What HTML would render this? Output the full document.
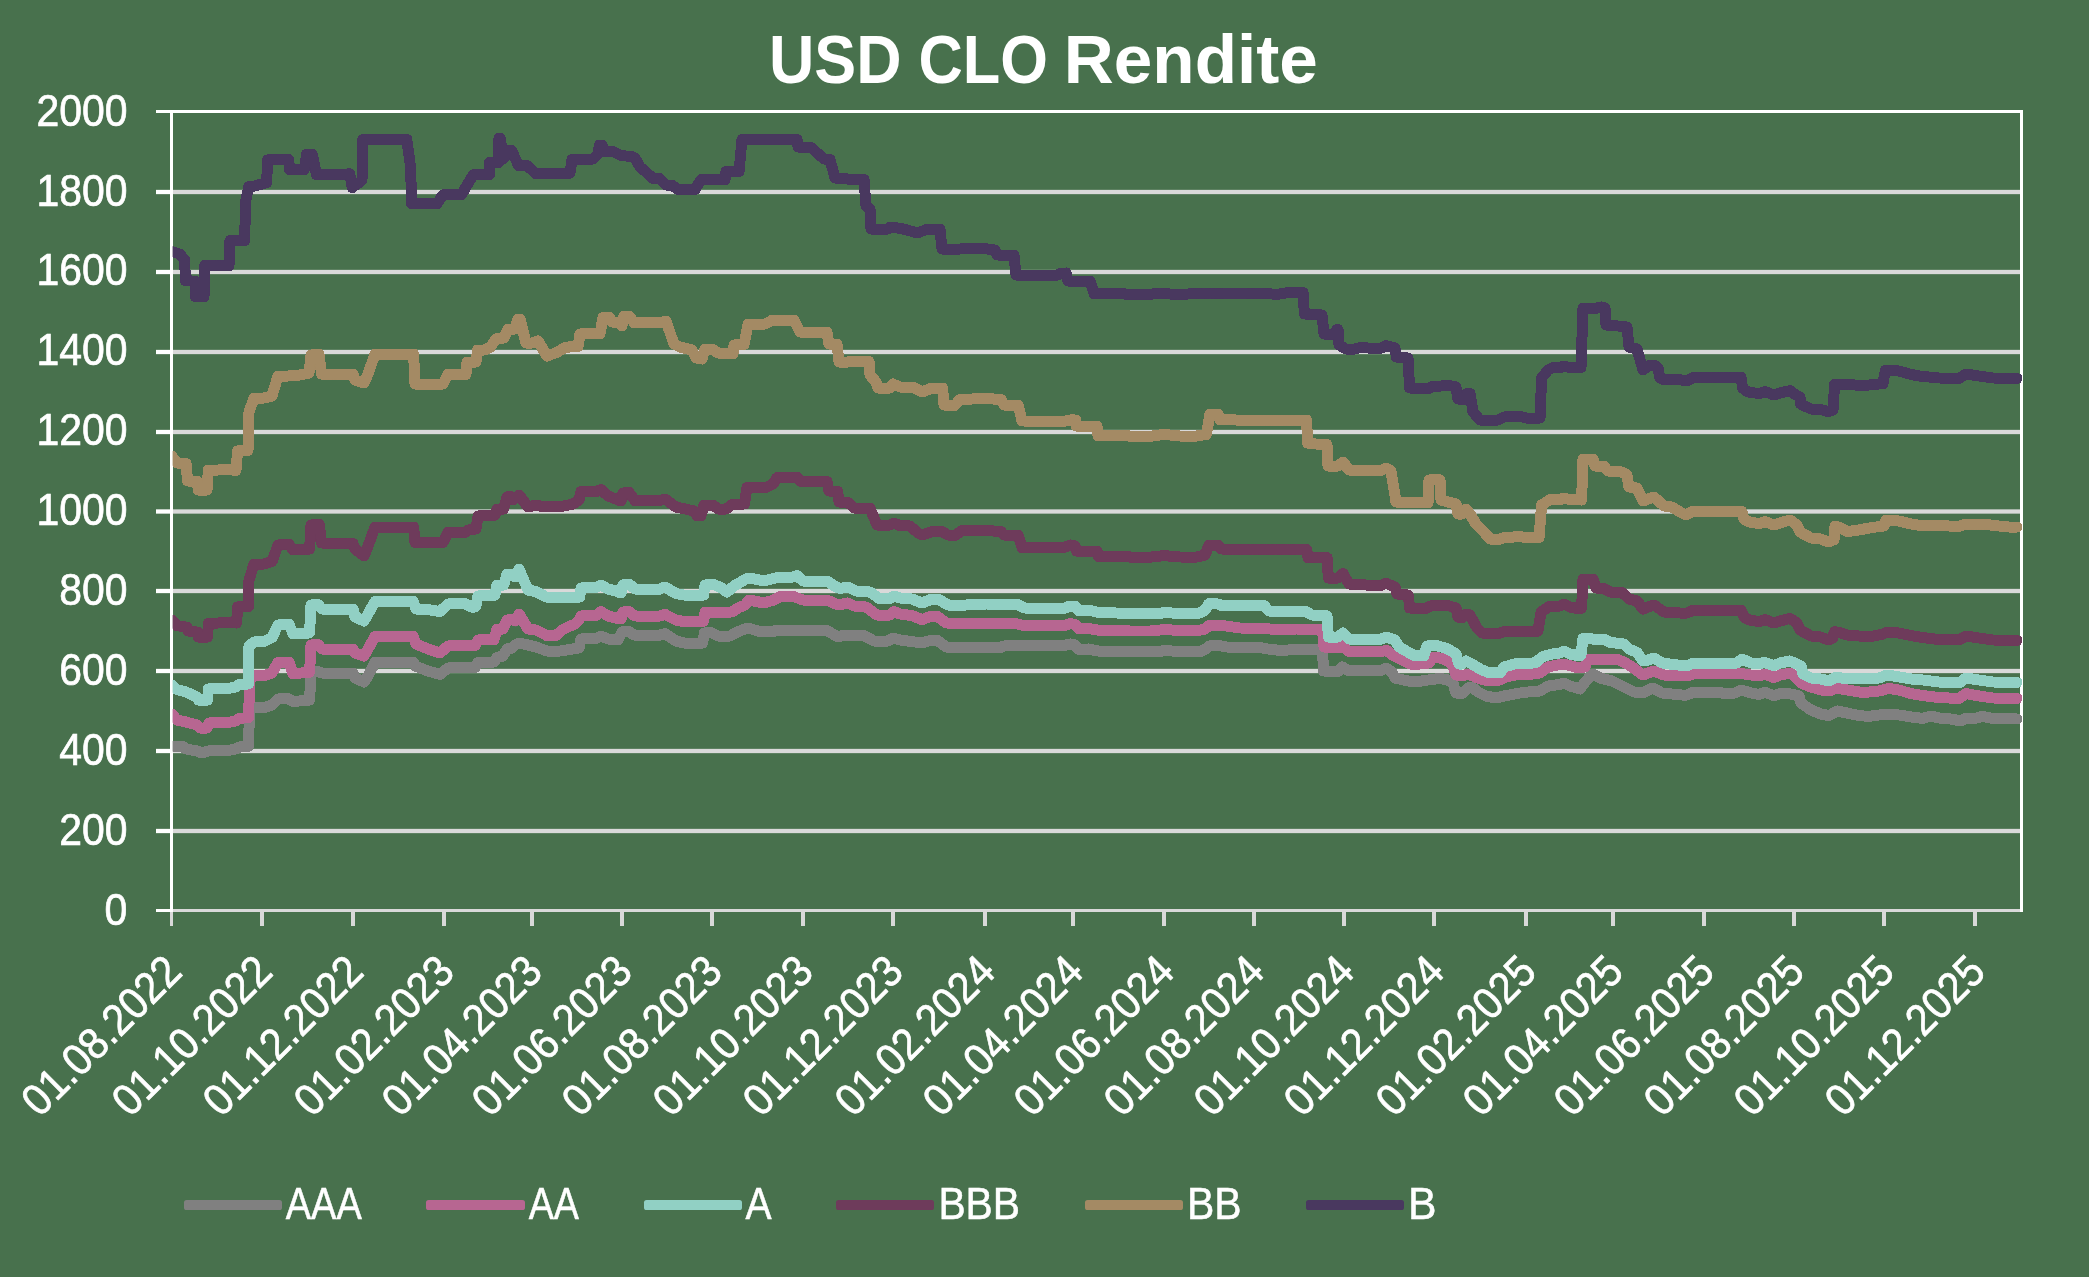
<!DOCTYPE html>
<html lang="de"><head><meta charset="utf-8"><title>USD CLO Rendite</title>
<style>
html,body{margin:0;padding:0;background:#48714D;}
body{width:2089px;height:1277px;overflow:hidden;font-family:"Liberation Sans",sans-serif;}
svg{display:block;will-change:transform}
text{font-family:"Liberation Sans",sans-serif;fill:#fff}
</style></head><body>
<svg width="2089" height="1277" viewBox="0 0 2089 1277">
<rect x="0" y="0" width="2089" height="1277" fill="#48714D"/>
<text x="769.0" y="83" font-size="69.4" font-weight="bold" textLength="132.5" lengthAdjust="spacingAndGlyphs">USD</text>
<text x="918.5" y="83" font-size="69.4" font-weight="bold" textLength="129.5" lengthAdjust="spacingAndGlyphs">CLO</text>
<text x="1063.8" y="83" font-size="69.4" font-weight="bold" textLength="254" lengthAdjust="spacingAndGlyphs">Rendite</text>
<g fill="#D9D9D9">
<rect x="173" y="828.85" width="1847" height="4.3"/>
<rect x="173" y="748.85" width="1847" height="4.3"/>
<rect x="173" y="668.85" width="1847" height="4.3"/>
<rect x="173" y="588.85" width="1847" height="4.3"/>
<rect x="173" y="509.35" width="1847" height="4.3"/>
<rect x="173" y="429.85" width="1847" height="4.3"/>
<rect x="173" y="349.85" width="1847" height="4.3"/>
<rect x="173" y="269.85" width="1847" height="4.3"/>
<rect x="173" y="189.85" width="1847" height="4.3"/>
<rect x="173" y="909" width="1847" height="3"/>
<rect x="170" y="912" width="3" height="14"/>
<rect x="260" y="912" width="4" height="14"/>
<rect x="351" y="912" width="4" height="14"/>
<rect x="442" y="912" width="4" height="14"/>
<rect x="530" y="912" width="4" height="14"/>
<rect x="620" y="912" width="4" height="14"/>
<rect x="710" y="912" width="4" height="14"/>
<rect x="801" y="912" width="4" height="14"/>
<rect x="891" y="912" width="4" height="14"/>
<rect x="983" y="912" width="4" height="14"/>
<rect x="1071" y="912" width="4" height="14"/>
<rect x="1162" y="912" width="4" height="14"/>
<rect x="1252" y="912" width="4" height="14"/>
<rect x="1342" y="912" width="4" height="14"/>
<rect x="1432" y="912" width="4" height="14"/>
<rect x="1524" y="912" width="4" height="14"/>
<rect x="1611" y="912" width="4" height="14"/>
<rect x="1702" y="912" width="4" height="14"/>
<rect x="1792" y="912" width="4" height="14"/>
<rect x="1882" y="912" width="4" height="14"/>
<rect x="1973" y="912" width="4" height="14"/>
</g>
<g fill="#fff">
<rect x="156" y="828.85" width="14" height="4.3"/>
<rect x="156" y="748.85" width="14" height="4.3"/>
<rect x="156" y="668.85" width="14" height="4.3"/>
<rect x="156" y="588.85" width="14" height="4.3"/>
<rect x="156" y="509.35" width="14" height="4.3"/>
<rect x="156" y="429.85" width="14" height="4.3"/>
<rect x="156" y="349.85" width="14" height="4.3"/>
<rect x="156" y="269.85" width="14" height="4.3"/>
<rect x="156" y="189.85" width="14" height="4.3"/>
<rect x="156" y="110" width="14" height="3"/>
<rect x="156" y="909" width="14" height="3"/>
<rect x="170" y="110" width="3" height="802"/>
<rect x="170" y="110" width="1853" height="3"/>
<rect x="2020" y="110" width="3" height="802"/>
</g>
<g font-size="44.3" text-anchor="end" stroke="#fff" stroke-width="0.7">
<text x="127.4" y="924.78" textLength="22.8" lengthAdjust="spacingAndGlyphs">0</text>
<text x="127.4" y="844.78" textLength="68.2" lengthAdjust="spacingAndGlyphs">200</text>
<text x="127.4" y="764.78" textLength="68.2" lengthAdjust="spacingAndGlyphs">400</text>
<text x="127.4" y="684.78" textLength="68.2" lengthAdjust="spacingAndGlyphs">600</text>
<text x="127.4" y="604.78" textLength="68.2" lengthAdjust="spacingAndGlyphs">800</text>
<text x="127.4" y="524.78" textLength="91.0" lengthAdjust="spacingAndGlyphs">1000</text>
<text x="127.4" y="444.78" textLength="91.0" lengthAdjust="spacingAndGlyphs">1200</text>
<text x="127.4" y="364.78" textLength="91.0" lengthAdjust="spacingAndGlyphs">1400</text>
<text x="127.4" y="284.78" textLength="91.0" lengthAdjust="spacingAndGlyphs">1600</text>
<text x="127.4" y="205.78" textLength="91.0" lengthAdjust="spacingAndGlyphs">1800</text>
<text x="127.4" y="125.78" textLength="91.0" lengthAdjust="spacingAndGlyphs">2000</text>
</g>
<g font-size="44.3" text-anchor="end" stroke="#fff" stroke-width="0.7">
<text transform="translate(184.10,974.0) rotate(-45)" textLength="204" lengthAdjust="spacingAndGlyphs">01.08.2022</text>
<text transform="translate(274.60,974.0) rotate(-45)" textLength="204" lengthAdjust="spacingAndGlyphs">01.10.2022</text>
<text transform="translate(365.60,974.0) rotate(-45)" textLength="204" lengthAdjust="spacingAndGlyphs">01.12.2022</text>
<text transform="translate(456.60,974.0) rotate(-45)" textLength="204" lengthAdjust="spacingAndGlyphs">01.02.2023</text>
<text transform="translate(544.60,974.0) rotate(-45)" textLength="204" lengthAdjust="spacingAndGlyphs">01.04.2023</text>
<text transform="translate(634.60,974.0) rotate(-45)" textLength="204" lengthAdjust="spacingAndGlyphs">01.06.2023</text>
<text transform="translate(724.60,974.0) rotate(-45)" textLength="204" lengthAdjust="spacingAndGlyphs">01.08.2023</text>
<text transform="translate(815.60,974.0) rotate(-45)" textLength="204" lengthAdjust="spacingAndGlyphs">01.10.2023</text>
<text transform="translate(905.60,974.0) rotate(-45)" textLength="204" lengthAdjust="spacingAndGlyphs">01.12.2023</text>
<text transform="translate(997.60,974.0) rotate(-45)" textLength="204" lengthAdjust="spacingAndGlyphs">01.02.2024</text>
<text transform="translate(1085.60,974.0) rotate(-45)" textLength="204" lengthAdjust="spacingAndGlyphs">01.04.2024</text>
<text transform="translate(1176.60,974.0) rotate(-45)" textLength="204" lengthAdjust="spacingAndGlyphs">01.06.2024</text>
<text transform="translate(1266.60,974.0) rotate(-45)" textLength="204" lengthAdjust="spacingAndGlyphs">01.08.2024</text>
<text transform="translate(1356.60,974.0) rotate(-45)" textLength="204" lengthAdjust="spacingAndGlyphs">01.10.2024</text>
<text transform="translate(1446.60,974.0) rotate(-45)" textLength="204" lengthAdjust="spacingAndGlyphs">01.12.2024</text>
<text transform="translate(1538.60,974.0) rotate(-45)" textLength="204" lengthAdjust="spacingAndGlyphs">01.02.2025</text>
<text transform="translate(1625.60,974.0) rotate(-45)" textLength="204" lengthAdjust="spacingAndGlyphs">01.04.2025</text>
<text transform="translate(1716.60,974.0) rotate(-45)" textLength="204" lengthAdjust="spacingAndGlyphs">01.06.2025</text>
<text transform="translate(1806.60,974.0) rotate(-45)" textLength="204" lengthAdjust="spacingAndGlyphs">01.08.2025</text>
<text transform="translate(1896.60,974.0) rotate(-45)" textLength="204" lengthAdjust="spacingAndGlyphs">01.10.2025</text>
<text transform="translate(1987.60,974.0) rotate(-45)" textLength="204" lengthAdjust="spacingAndGlyphs">01.12.2025</text>
</g>
<clipPath id="pc"><rect x="172.8" y="100" width="1870" height="820"/></clipPath>
<g fill="none" stroke-width="11" stroke-linejoin="round" stroke-linecap="round" clip-path="url(#pc)" shape-rendering="crispEdges">
<polyline id="sAAA" stroke="#808080" points="171.6,746.0 182.0,746.0 186.0,749.0 197.0,751.0 202.0,753.0 208.0,751.0 228.0,750.4 236.0,749.0 239.0,747.0 248.0,746.4 248.4,746.4 249.6,710.0 254.0,707.6 264.0,707.6 272.0,705.0 278.0,699.0 288.0,698.4 293.0,701.6 309.0,700.0 309.6,700.0 311.0,672.0 318.0,671.6 322.0,673.0 353.0,673.0 355.0,678.0 364.0,682.0 368.0,676.0 375.0,662.4 413.0,662.0 416.0,666.4 428.0,671.0 440.0,674.4 448.0,668.0 475.0,667.6 478.0,662.4 494.0,662.0 497.0,657.6 503.0,656.0 507.0,649.0 512.0,648.0 515.0,645.0 519.0,643.0 528.0,645.0 536.0,647.0 547.0,651.0 560.0,651.0 579.0,648.0 581.0,639.0 596.0,638.4 601.0,636.0 608.0,639.0 618.0,640.0 622.0,632.0 628.0,631.0 634.0,635.0 658.0,635.6 665.0,633.6 676.0,641.0 684.0,643.0 702.0,643.0 702.6,643.0 704.4,633.0 711.0,632.4 718.0,636.0 730.0,636.0 738.0,631.6 748.0,628.0 760.0,631.6 772.0,632.0 777.0,630.0 826.0,630.0 838.0,637.0 844.0,635.0 864.0,635.6 874.0,641.0 888.0,641.0 893.0,638.0 900.0,640.0 912.0,641.6 922.0,643.0 932.0,640.0 937.0,640.0 946.0,647.0 978.0,647.0 1000.0,647.6 1004.0,646.0 1016.0,645.6 1064.0,645.6 1070.0,644.0 1075.0,645.0 1079.0,649.6 1088.0,649.0 1098.0,651.0 1116.0,651.0 1120.0,651.6 1160.0,651.6 1164.0,650.4 1180.0,651.6 1200.0,651.6 1205.0,649.6 1209.0,646.0 1220.0,645.6 1226.0,647.0 1260.0,647.6 1268.0,649.0 1280.0,650.4 1296.0,649.6 1322.0,649.6 1322.4,649.6 1323.6,671.0 1338.0,671.6 1342.4,667.0 1349.0,671.0 1360.0,670.0 1380.0,671.0 1386.0,668.0 1392.0,672.0 1395.0,678.0 1408.0,681.0 1416.0,682.0 1428.0,680.0 1440.0,678.4 1448.0,680.0 1453.0,683.0 1456.0,693.0 1462.0,693.6 1468.0,688.0 1472.0,687.0 1478.0,692.0 1486.0,696.0 1496.0,698.0 1504.0,696.0 1520.0,693.0 1528.0,692.0 1540.0,691.0 1548.0,686.0 1560.0,684.4 1564.0,683.0 1570.0,686.0 1580.0,689.0 1585.0,682.0 1592.0,674.4 1595.0,675.0 1600.0,678.0 1612.0,681.0 1624.0,687.0 1634.0,692.0 1643.0,693.0 1648.0,690.0 1653.0,688.0 1662.0,693.0 1672.0,694.0 1682.0,695.0 1687.0,695.0 1693.0,692.4 1719.0,692.4 1725.0,693.6 1735.0,693.0 1741.0,690.0 1751.0,693.0 1759.0,694.4 1765.0,692.4 1774.0,695.6 1780.0,693.6 1791.0,694.0 1799.0,696.0 1801.0,703.0 1811.0,710.0 1821.0,714.0 1829.0,715.6 1837.0,711.0 1847.0,713.0 1859.0,715.6 1869.0,716.4 1879.0,715.0 1889.0,714.0 1899.0,715.0 1911.0,717.0 1923.0,718.4 1931.0,716.0 1939.0,718.0 1951.0,719.0 1961.0,721.0 1966.0,718.0 1975.0,718.4 1982.0,716.4 1993.0,718.4 2017.0,719.0"/>
<use href="#sAAA" stroke="#808080" stroke-width="10" shape-rendering="geometricPrecision"/>
<polyline id="sAA" stroke="#B76691" points="171.6,714.0 177.0,720.0 186.0,722.0 197.0,725.0 200.0,728.0 207.0,728.0 209.0,723.0 228.0,722.4 236.0,721.0 239.0,718.4 248.0,717.6 248.4,717.6 250.0,680.0 254.0,676.0 264.0,675.6 272.0,673.0 278.0,662.4 289.0,662.0 293.0,673.6 309.0,672.4 309.6,672.0 311.0,645.0 318.0,644.4 322.0,649.0 353.0,649.0 355.0,653.0 364.0,656.0 368.0,649.0 375.0,636.4 413.0,636.0 416.0,644.0 428.0,649.0 440.0,653.0 448.0,646.0 475.0,645.6 478.0,640.0 494.0,639.6 497.0,629.0 503.0,629.0 507.0,620.0 512.0,619.6 515.0,621.0 519.0,614.0 528.0,629.0 536.0,630.0 547.0,635.6 556.0,635.6 562.0,630.0 568.0,627.0 575.0,624.0 579.0,620.0 581.0,616.0 596.0,615.6 601.0,611.6 608.0,616.0 616.0,618.0 621.0,619.0 623.0,612.0 629.0,611.6 635.0,616.0 658.0,616.4 665.0,614.4 676.0,620.0 684.0,621.6 703.0,621.6 703.6,621.0 705.0,612.4 732.0,612.0 738.0,608.0 745.0,605.0 749.0,600.0 764.0,603.0 774.0,600.0 780.0,596.4 792.0,596.0 803.0,600.0 827.0,600.0 838.0,605.0 848.0,603.0 854.0,606.0 866.0,607.0 877.0,615.0 890.0,615.0 894.0,611.6 900.0,614.0 912.0,615.6 922.0,619.6 932.0,616.0 937.0,616.0 946.0,623.0 978.0,623.6 1016.0,623.6 1024.0,625.6 1064.0,625.6 1070.0,623.6 1075.0,624.4 1079.0,629.0 1088.0,628.4 1100.0,630.4 1130.0,631.0 1150.0,631.0 1164.0,629.6 1180.0,630.4 1196.0,631.0 1205.0,629.0 1209.0,625.6 1226.0,626.0 1240.0,628.0 1264.0,628.4 1280.0,630.0 1296.0,629.0 1321.0,629.6 1322.4,629.6 1324.0,647.0 1338.0,648.0 1342.0,646.0 1349.0,651.6 1360.0,652.0 1380.0,651.6 1387.0,650.4 1392.0,655.0 1400.0,659.0 1410.0,664.0 1420.0,664.0 1429.0,663.0 1433.0,657.0 1440.0,658.0 1448.0,661.0 1453.0,666.0 1456.0,675.0 1462.0,676.0 1468.0,674.0 1475.0,677.0 1484.0,680.0 1500.0,680.0 1506.0,677.0 1518.0,674.4 1526.0,675.0 1540.0,673.0 1548.0,667.0 1560.0,664.4 1568.0,665.0 1578.0,668.0 1585.0,667.0 1587.0,659.0 1616.0,659.0 1624.0,662.0 1632.0,667.0 1643.0,675.0 1648.0,673.0 1654.0,671.0 1664.0,675.0 1680.0,676.0 1688.0,675.6 1694.0,673.6 1741.0,673.0 1746.0,674.4 1759.0,676.0 1765.0,674.0 1774.0,677.6 1780.0,675.0 1791.0,673.0 1796.0,678.0 1801.0,683.0 1811.0,687.0 1821.0,690.0 1829.0,691.0 1837.0,688.0 1847.0,690.0 1859.0,692.0 1869.0,692.0 1879.0,691.0 1889.0,688.4 1899.0,690.0 1911.0,693.6 1923.0,695.6 1939.0,697.6 1959.0,698.4 1966.0,693.6 1979.0,696.0 1993.0,698.0 2017.0,698.4"/>
<use href="#sAA" stroke="#B76691" stroke-width="10" shape-rendering="geometricPrecision"/>
<polyline id="sA" stroke="#91D0C4" points="171.6,685.0 177.0,689.6 186.0,692.0 197.0,697.0 198.4,700.0 207.0,700.0 207.6,700.0 208.4,689.0 228.0,688.4 236.0,687.0 239.0,684.4 248.0,684.0 248.4,684.0 249.0,646.0 254.0,642.0 264.0,641.6 272.0,637.6 278.0,625.0 289.0,624.4 293.0,633.6 309.0,633.0 309.6,632.4 311.0,605.0 318.0,604.4 322.0,609.0 353.0,609.0 355.0,617.0 364.0,621.0 368.0,614.0 375.0,601.6 413.0,601.0 416.0,609.0 428.0,609.6 440.0,611.6 448.0,604.0 465.0,603.6 471.0,607.0 475.0,607.0 476.0,606.0 478.0,596.0 494.0,595.6 495.0,595.0 497.0,585.0 503.0,585.0 503.6,585.0 507.0,574.4 512.0,574.4 515.0,577.0 519.0,569.0 528.0,590.0 536.0,591.6 546.0,597.0 560.0,597.0 579.0,597.0 579.6,597.0 581.0,588.0 596.0,587.6 601.0,585.0 608.0,589.0 616.0,591.0 621.0,593.0 623.0,585.0 629.0,584.0 635.0,589.0 658.0,589.6 665.0,587.0 676.0,593.6 684.0,595.0 703.0,595.0 703.6,595.0 705.0,585.0 713.0,584.4 720.0,587.0 727.0,592.0 734.0,586.0 746.0,579.0 750.0,578.0 764.0,581.0 777.0,577.6 793.0,577.0 797.0,575.6 803.0,581.0 827.0,581.0 836.0,587.0 840.0,588.4 848.0,587.0 856.0,591.0 870.0,592.0 880.0,599.0 890.0,598.4 894.0,596.0 900.0,598.0 912.0,599.0 922.0,603.0 932.0,599.0 938.0,599.0 948.0,605.0 966.0,605.0 972.0,604.4 986.0,604.0 1018.0,604.4 1024.0,608.0 1064.0,608.4 1070.0,606.0 1075.0,606.4 1079.0,611.0 1088.0,610.0 1098.0,612.4 1116.0,613.0 1160.0,613.6 1164.0,612.4 1180.0,613.6 1200.0,613.0 1205.0,610.0 1209.0,603.6 1218.0,604.0 1222.0,605.6 1264.0,605.6 1269.0,611.0 1284.0,612.0 1296.0,611.0 1306.0,611.6 1312.0,615.0 1320.0,616.0 1326.0,615.6 1327.0,616.0 1328.4,637.0 1338.0,637.0 1343.0,633.0 1349.0,639.0 1360.0,640.0 1380.0,639.6 1386.0,637.0 1395.0,640.0 1399.0,647.0 1408.0,652.0 1414.0,655.6 1424.0,655.6 1427.0,646.0 1435.0,645.0 1448.0,649.0 1456.0,654.0 1459.0,664.0 1462.0,664.0 1466.0,661.0 1472.0,664.0 1480.0,669.0 1488.0,672.4 1500.0,673.0 1504.0,667.0 1518.0,663.0 1526.0,664.0 1536.0,662.4 1542.0,657.0 1552.0,654.0 1560.0,653.0 1564.0,651.0 1570.0,654.0 1580.0,656.0 1581.0,655.0 1583.0,638.4 1593.0,639.0 1597.0,640.0 1604.0,639.0 1610.0,642.4 1624.0,644.0 1629.0,649.0 1637.0,652.4 1643.0,661.0 1648.0,660.0 1654.0,658.0 1662.0,663.0 1672.0,664.4 1684.0,665.6 1687.0,666.0 1693.0,663.0 1737.0,663.0 1742.0,659.0 1751.0,663.0 1759.0,664.0 1764.0,662.4 1774.0,665.6 1780.0,663.0 1790.0,661.0 1796.0,663.6 1801.0,666.0 1803.0,674.0 1811.0,678.0 1821.0,679.0 1829.0,681.0 1836.0,677.0 1847.0,679.0 1859.0,678.0 1869.0,679.0 1879.0,678.0 1887.0,675.0 1899.0,677.0 1911.0,679.0 1923.0,680.0 1939.0,682.0 1959.0,683.0 1966.0,678.0 1979.0,680.0 1993.0,682.0 2017.0,682.4"/>
<use href="#sA" stroke="#91D0C4" stroke-width="10" shape-rendering="geometricPrecision"/>
<polyline id="sBBB" stroke="#6E3B5B" points="171.6,620.0 177.0,625.6 186.0,627.0 187.0,627.0 188.0,631.0 197.0,632.0 197.6,632.0 198.4,637.0 207.0,637.0 207.6,637.0 208.4,623.6 218.0,623.0 228.0,622.4 236.0,623.0 236.6,623.0 237.6,607.0 248.0,606.6 248.4,606.6 249.0,580.0 254.0,564.0 264.0,564.0 272.0,561.6 278.0,545.0 289.0,544.4 293.0,549.6 309.0,549.0 309.6,549.0 311.0,525.0 319.0,524.4 319.4,525.0 321.6,543.0 353.0,543.6 355.0,549.0 364.0,556.0 368.0,546.0 375.0,527.0 413.0,527.0 413.6,527.0 415.0,542.4 443.0,542.4 448.0,532.4 465.0,532.4 468.0,530.0 475.0,529.0 476.0,529.0 478.0,516.0 494.0,515.6 495.0,515.0 497.0,509.0 503.0,509.0 503.6,509.0 507.0,497.0 510.0,496.4 513.0,500.0 519.0,495.0 528.0,507.0 536.0,505.0 544.0,507.0 560.0,506.6 572.0,504.4 578.0,501.0 579.0,500.0 581.0,491.6 596.0,491.6 601.0,489.6 608.0,496.0 616.0,499.0 621.0,501.0 623.0,493.0 629.0,492.4 635.0,500.6 658.0,501.0 665.0,499.0 676.0,507.0 688.0,509.6 694.0,511.0 697.0,515.6 701.0,515.6 704.0,505.0 713.0,505.0 718.0,509.0 726.0,509.0 733.0,504.0 744.0,504.0 744.4,504.0 747.0,487.6 766.0,487.6 773.0,484.0 777.0,477.6 797.0,477.0 801.0,481.6 827.0,481.6 829.0,491.0 837.0,491.6 837.6,491.6 839.0,502.0 848.0,502.4 854.0,508.0 870.0,508.4 877.0,525.0 890.0,525.0 894.0,523.0 900.0,525.6 910.0,526.0 918.0,533.0 922.0,535.0 932.0,531.6 942.0,531.6 948.0,535.0 955.0,535.6 962.0,530.4 978.0,530.4 986.0,530.4 1001.0,531.6 1004.0,535.0 1018.0,535.0 1018.4,535.6 1022.0,547.6 1064.0,547.6 1070.0,545.0 1075.0,546.0 1076.4,551.0 1096.0,551.0 1097.0,551.0 1098.4,556.4 1128.0,556.4 1130.0,557.2 1150.0,557.2 1164.0,555.6 1180.0,557.0 1196.0,557.2 1205.0,555.0 1209.0,545.0 1218.0,545.0 1221.0,549.0 1260.0,549.6 1276.0,550.0 1296.0,549.0 1306.0,549.0 1306.6,549.6 1308.0,557.6 1320.0,558.0 1326.0,557.0 1327.0,557.6 1328.4,578.0 1338.0,578.0 1343.0,573.6 1349.0,584.0 1366.0,585.0 1380.0,586.0 1386.0,583.0 1390.0,585.0 1395.0,587.0 1397.0,594.0 1408.0,595.0 1408.4,595.6 1409.6,608.0 1426.0,608.4 1430.0,606.0 1448.0,605.6 1456.0,608.0 1458.0,617.0 1462.0,618.0 1466.0,614.0 1470.0,615.0 1477.0,628.0 1482.0,633.0 1498.0,633.6 1504.0,631.6 1520.0,631.0 1528.0,632.0 1537.0,631.6 1538.0,631.0 1541.0,612.0 1550.0,606.0 1560.0,606.0 1564.0,604.0 1570.0,607.0 1580.0,609.0 1581.6,608.0 1583.0,579.0 1593.0,579.0 1596.0,588.0 1604.0,588.4 1610.0,592.0 1622.0,592.4 1629.0,599.0 1637.0,601.0 1643.0,609.0 1648.0,607.0 1654.0,605.0 1664.0,612.0 1674.0,612.4 1680.0,613.0 1687.0,613.0 1693.0,610.4 1741.0,610.0 1744.0,617.0 1749.0,620.0 1759.0,621.6 1765.0,619.6 1774.0,623.0 1780.0,621.0 1790.0,618.4 1797.0,623.0 1800.0,630.0 1811.0,636.0 1821.0,637.0 1828.0,640.0 1833.0,638.0 1834.0,633.0 1835.0,631.6 1841.0,633.0 1847.0,635.0 1859.0,636.0 1869.0,637.0 1883.0,634.0 1886.0,632.4 1899.0,633.0 1911.0,635.6 1923.0,637.6 1939.0,639.6 1959.0,640.0 1966.0,636.0 1979.0,638.0 1993.0,640.0 2017.0,640.4"/>
<use href="#sBBB" stroke="#6E3B5B" stroke-width="10" shape-rendering="geometricPrecision"/>
<polyline id="sBB" stroke="#A48A64" points="171.6,456.0 177.0,463.0 186.0,463.6 187.6,481.0 197.0,481.0 198.4,490.0 207.0,490.0 208.4,470.0 218.0,470.0 228.0,469.6 236.0,470.4 237.6,451.0 248.0,450.4 249.0,412.0 254.0,398.0 264.0,398.0 272.0,396.0 278.0,376.0 288.0,376.0 300.0,375.0 309.0,373.0 311.0,355.0 318.0,354.4 319.0,354.4 321.6,374.0 330.0,375.0 336.0,374.4 353.0,374.4 355.0,380.0 364.0,383.0 368.0,374.0 375.0,354.0 413.0,354.0 413.6,354.0 415.0,384.0 443.0,384.0 448.0,374.4 465.0,374.4 466.0,374.4 467.0,362.0 475.0,362.0 476.0,362.0 477.6,350.0 484.0,350.0 490.0,347.6 496.0,339.0 502.0,338.0 504.0,338.0 508.0,329.0 514.0,329.0 515.0,329.0 518.0,319.0 520.0,319.0 526.0,343.0 532.0,343.0 538.0,341.0 547.0,356.0 557.0,352.4 564.0,348.0 572.0,346.4 574.0,346.4 578.0,346.4 580.0,334.0 600.0,333.6 603.0,317.6 609.0,317.0 612.0,322.0 620.0,323.0 622.0,326.0 624.0,316.0 629.0,316.0 634.0,322.6 660.0,323.0 666.0,321.0 674.0,344.0 680.0,347.0 688.0,349.0 692.0,350.0 696.0,358.0 702.0,359.0 705.0,349.0 712.0,349.0 718.0,353.0 732.0,353.6 733.0,353.6 734.0,345.0 743.0,344.4 744.0,344.4 748.0,324.4 765.0,324.0 772.0,320.4 794.0,320.0 800.0,332.0 826.0,332.0 827.0,332.0 829.0,344.0 836.0,344.0 837.0,344.0 839.0,362.0 846.0,362.4 850.0,361.6 868.0,361.6 869.0,361.6 870.0,375.0 876.0,382.0 878.0,388.0 890.0,388.0 893.0,384.0 900.0,387.0 914.0,387.6 922.0,392.0 932.0,388.0 942.0,388.0 942.6,388.0 944.0,405.0 954.0,406.0 960.0,399.6 972.0,399.0 986.0,398.6 1001.0,399.4 1004.0,405.0 1018.0,405.6 1018.4,405.6 1022.0,421.0 1064.0,421.4 1072.0,419.6 1075.0,420.0 1075.6,420.0 1076.4,426.0 1084.0,426.4 1096.0,426.4 1097.0,426.4 1098.0,435.6 1128.0,435.6 1130.0,436.4 1150.0,436.4 1164.0,434.4 1180.0,436.0 1194.0,436.4 1206.0,434.4 1206.4,434.4 1210.0,414.0 1218.0,414.0 1220.0,419.6 1236.0,420.0 1260.0,420.0 1276.0,421.0 1296.0,420.0 1306.0,420.0 1306.6,420.0 1307.6,443.0 1316.0,444.0 1326.0,444.6 1327.0,444.6 1328.0,466.0 1338.0,466.0 1343.0,462.0 1349.0,470.0 1366.0,470.0 1380.0,471.0 1386.0,468.0 1390.0,470.0 1391.0,471.0 1396.0,502.0 1428.0,503.0 1428.0,503.0 1429.0,480.0 1439.0,479.6 1440.0,480.0 1441.0,500.0 1448.0,502.0 1456.0,504.0 1458.0,514.0 1462.0,514.0 1466.0,509.0 1470.0,514.0 1476.0,524.0 1484.0,532.0 1490.0,539.0 1498.0,539.6 1504.0,537.6 1520.0,536.6 1528.0,538.0 1538.0,537.6 1539.0,537.6 1541.6,505.0 1550.0,499.6 1560.0,499.6 1564.0,498.0 1570.0,499.6 1581.0,500.0 1581.6,500.0 1583.0,459.0 1593.0,459.0 1595.0,466.0 1604.0,466.4 1608.0,471.0 1620.0,471.6 1626.0,474.0 1627.0,475.0 1629.0,487.0 1637.0,488.0 1643.0,501.0 1648.0,499.0 1654.0,497.0 1664.0,506.0 1672.0,507.0 1680.0,512.0 1686.0,515.0 1692.0,511.6 1741.0,511.0 1742.0,511.6 1744.0,519.0 1749.0,522.0 1759.0,523.6 1765.0,521.6 1774.0,525.0 1780.0,523.0 1790.0,520.0 1797.0,525.0 1800.0,532.0 1811.0,538.0 1821.0,539.0 1828.0,542.0 1833.0,540.0 1834.0,540.0 1835.0,526.0 1841.0,528.0 1847.0,531.6 1859.0,530.0 1869.0,528.0 1883.0,526.0 1884.0,526.0 1886.0,520.4 1899.0,521.0 1911.0,524.0 1923.0,526.0 1939.0,525.6 1959.0,526.4 1966.0,524.0 1975.0,525.0 1983.0,524.0 1995.0,525.6 2009.0,527.0 2017.0,527.0"/>
<use href="#sBB" stroke="#A48A64" stroke-width="10" shape-rendering="geometricPrecision"/>
<polyline id="sB" stroke="#49385F" points="172.0,251.5 179.5,254.0 184.5,259.5 185.5,280.5 195.0,281.3 195.5,296.8 204.0,296.8 204.8,265.0 214.0,265.0 220.0,265.8 229.0,265.8 230.0,240.6 244.7,240.6 245.5,201.5 248.8,186.8 254.5,186.0 266.7,182.7 267.5,159.9 288.7,159.6 289.5,169.7 303.4,169.7 304.2,169.7 306.6,154.2 312.3,154.2 316.4,174.6 339.2,174.6 349.8,173.8 352.2,187.6 362.0,180.3 362.8,139.6 406.8,139.5 410.6,167.2 411.6,203.9 437.0,203.9 442.7,194.9 461.4,194.9 467.9,183.5 473.6,174.6 489.4,174.6 489.6,162.6 498.5,162.6 498.9,138.4 500.3,138.4 503.3,158.5 505.0,157.0 508.5,150.4 511.5,150.4 518.5,165.5 527.0,165.5 535.5,173.4 569.0,173.4 570.0,173.0 572.0,159.6 593.0,159.0 598.0,154.0 599.5,145.0 602.0,145.0 605.0,151.6 613.0,151.6 621.0,155.6 631.0,156.4 635.0,158.0 640.0,167.0 646.0,172.0 653.0,178.5 659.0,178.0 666.0,185.0 672.0,185.0 678.0,189.6 695.0,189.6 701.0,179.6 723.0,179.6 725.0,179.6 726.0,171.6 738.0,171.6 739.0,171.6 742.0,139.6 796.0,139.6 797.0,139.6 798.0,147.0 811.0,147.4 824.0,159.0 830.0,159.6 835.0,178.0 844.0,178.4 850.0,179.4 863.0,179.4 864.0,179.4 866.0,206.0 870.0,209.0 871.0,229.0 888.0,229.0 890.0,227.0 898.0,228.0 906.0,229.6 917.0,233.0 927.0,229.4 940.0,229.4 942.0,249.0 960.0,249.0 964.0,248.6 984.0,248.6 995.0,250.0 997.0,255.0 1014.0,255.4 1016.0,275.0 1058.0,275.0 1060.0,273.6 1066.0,273.0 1068.0,281.0 1088.0,281.0 1090.0,281.0 1094.0,293.6 1124.0,293.6 1126.0,294.4 1150.0,294.4 1160.0,293.0 1174.0,294.4 1188.0,294.0 1204.0,293.0 1210.0,294.0 1224.0,293.0 1246.0,293.0 1254.0,293.6 1272.0,294.0 1280.0,294.0 1288.0,292.6 1303.0,292.4 1304.4,314.0 1317.0,314.4 1322.0,315.0 1324.0,334.0 1335.0,334.4 1337.0,329.6 1338.0,329.6 1339.0,345.0 1346.0,349.0 1355.0,349.0 1360.0,347.6 1368.0,348.0 1382.0,348.0 1386.0,345.6 1395.0,348.0 1396.4,357.0 1408.0,358.0 1409.6,388.0 1429.0,388.4 1432.0,386.4 1450.0,385.6 1456.0,387.0 1458.0,399.0 1466.0,399.0 1467.0,393.6 1470.0,393.6 1473.0,412.0 1480.0,420.0 1498.0,420.0 1504.0,417.0 1520.0,416.4 1526.0,418.0 1540.0,418.0 1541.6,378.0 1548.0,370.0 1553.0,367.6 1560.0,367.6 1564.0,366.0 1570.0,367.6 1581.0,367.6 1583.0,308.0 1592.0,309.0 1602.0,307.0 1605.0,308.0 1606.0,325.0 1618.0,326.0 1627.0,327.0 1629.0,347.0 1637.0,349.0 1643.0,370.0 1648.0,366.0 1654.0,365.0 1658.0,368.0 1660.0,378.0 1665.0,380.0 1679.0,379.6 1687.0,381.0 1693.0,377.4 1741.0,377.0 1742.6,388.0 1748.0,392.0 1759.0,393.6 1765.0,391.6 1774.0,395.0 1780.0,393.0 1790.0,390.6 1796.0,395.0 1800.0,397.0 1800.6,404.0 1811.0,409.0 1821.0,409.6 1828.0,411.6 1833.0,410.0 1834.6,384.4 1841.0,384.4 1855.0,385.0 1869.0,385.0 1883.0,383.6 1885.4,370.4 1899.0,371.0 1911.0,374.4 1919.0,376.0 1939.0,378.0 1959.0,378.4 1966.0,374.0 1979.0,376.0 1993.0,378.0 2017.0,378.4"/>
<use href="#sB" stroke="#49385F" stroke-width="10" shape-rendering="geometricPrecision"/>
</g>
<g>
<rect x="184" y="1200" width="98" height="10" rx="2.6" fill="#808080"/>
<text x="285.7" y="1218.8" font-size="43.8" stroke="#fff" stroke-width="0.5" textLength="76.1" lengthAdjust="spacingAndGlyphs">AAA</text>
<rect x="426" y="1200" width="99" height="10" rx="2.6" fill="#B76691"/>
<text x="528.7" y="1218.8" font-size="43.8" stroke="#fff" stroke-width="0.5" textLength="50.3" lengthAdjust="spacingAndGlyphs">AA</text>
<rect x="644" y="1200" width="98" height="10" rx="2.6" fill="#91D0C4"/>
<text x="745.5" y="1218.8" font-size="43.8" stroke="#fff" stroke-width="0.5" textLength="26.1" lengthAdjust="spacingAndGlyphs">A</text>
<rect x="836" y="1200" width="98" height="10" rx="2.6" fill="#6E3B5B"/>
<text x="938.4" y="1218.8" font-size="43.8" stroke="#fff" stroke-width="0.5" textLength="81.7" lengthAdjust="spacingAndGlyphs">BBB</text>
<rect x="1085" y="1200" width="98" height="10" rx="2.6" fill="#A48A64"/>
<text x="1187.0" y="1218.8" font-size="43.8" stroke="#fff" stroke-width="0.5" textLength="54.6" lengthAdjust="spacingAndGlyphs">BB</text>
<rect x="1306" y="1200" width="98" height="10" rx="2.6" fill="#49385F"/>
<text x="1408.1" y="1218.8" font-size="43.8" stroke="#fff" stroke-width="0.5" textLength="28.5" lengthAdjust="spacingAndGlyphs">B</text>
</g>
</svg>
</body></html>
